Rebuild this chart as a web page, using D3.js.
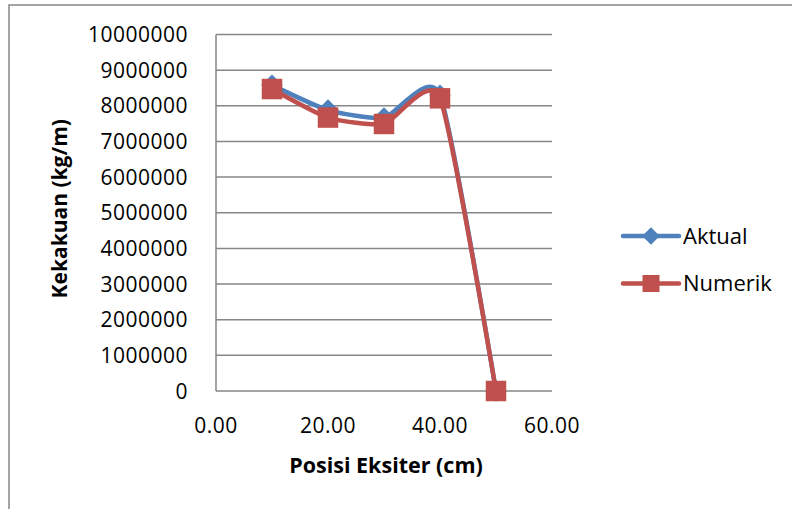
<!DOCTYPE html>
<html lang="en">
<head>
    <meta charset="UTF-8">
    <title>Kekakuan vs Posisi Eksiter</title>
    <script src="https://cdn.jsdelivr.net/npm/d3@7/dist/d3.min.js"></script>
    <style>
        body { margin: 0; background: #fff; }
        svg { display: block; }
    </style>
</head>
<body>
<script type="application/javascript">
    // posisi eksiter (cm)
    const posisi = [10, 20, 30, 40, 50];
    // kekakuan (kg/m)
    const aktual = [8580000, 7880000, 7660000, 8300000, 0];
    const numerik = [8470000, 7670000, 7490000, 8210000, 0];

    const yTicks = d3.range(0, 10000001, 1000000);
    const xTicks = [0, 20, 40, 60];

    const w = 792, h = 509;
    // batas area plot
    const plotL = 216, plotR = 552, plotT = 34.5, plotB = 391;
    const font = "'Open Sans', sans-serif";
    const gridColor = '#868686';

    let svg = d3.select('body')
        .append('svg')
        .attr('width', w)
        .attr('height', h);

    // rangka grafik (terpotong di kanan dan bawah)
    svg.append('rect')
        .attr('x', 9).attr('y', 5)
        .attr('width', 900).attr('height', 600)
        .attr('fill', 'none')
        .attr('stroke', gridColor)
        .attr('stroke-width', 1.5);

    let xScale = d3.scaleLinear().domain([0, 60]).range([plotL, plotR]);
    let yScale = d3.scaleLinear().domain([0, 10000000]).range([plotB, plotT]);

    // garis grid horizontal
    svg.selectAll('line.grid')
        .data(yTicks)
        .enter()
        .append('line')
        .attr('class', 'grid')
        .attr('x1', plotL).attr('x2', plotR)
        .attr('y1', d => yScale(d)).attr('y2', d => yScale(d))
        .attr('stroke', gridColor)
        .attr('stroke-width', 1.5);

    // sumbu y
    svg.append('line')
        .attr('x1', xScale(0)).attr('x2', xScale(0))
        .attr('y1', yScale(10000000)).attr('y2', yScale(0))
        .attr('stroke', gridColor)
        .attr('stroke-width', 1.5);

    // label sumbu y
    svg.selectAll('text.ytick')
        .data(yTicks)
        .enter()
        .append('text')
        .attr('class', 'ytick')
        .attr('x', 188)
        .attr('y', d => yScale(d))
        .attr('dy', '0.36em')
        .attr('text-anchor', 'end')
        .attr('font-family', font)
        .attr('font-size', '21px')
        .attr('letter-spacing', '0.5px')
        .attr('fill', '#000')
        .text(d => String(d));

    // label sumbu x
    svg.selectAll('text.xtick')
        .data(xTicks)
        .enter()
        .append('text')
        .attr('class', 'xtick')
        .attr('x', d => xScale(d))
        .attr('y', 433)
        .attr('text-anchor', 'middle')
        .attr('font-family', font)
        .attr('font-size', '21px')
        .attr('letter-spacing', '0.5px')
        .attr('fill', '#000')
        .text(d => d.toFixed(2));

    // judul sumbu
    svg.append('text')
        .attr('x', (plotL + plotR) / 2 + 2)
        .attr('y', 473)
        .attr('text-anchor', 'middle')
        .attr('font-family', font)
        .attr('font-size', '21.5px')
        .attr('font-weight', 'bold')
        .text('Posisi Eksiter (cm)');

    svg.append('text')
        .attr('transform', 'translate(67,' + ((plotT + plotB) / 2 - 4) + ') rotate(-90)')
        .attr('text-anchor', 'middle')
        .attr('font-family', font)
        .attr('font-size', '21px')
        .attr('font-weight', 'bold')
        .text('Kekakuan (kg/m)');

    const line = d3.line()
        .x(d => xScale(d[0]))
        .y(d => yScale(d[1]))
        .curve(d3.curveCardinal.tension(0.4));

    // belah ketupat = bujur sangkar diputar 45 derajat
    const series = [
        { name: 'Aktual', values: aktual, color: '#4F81BD', rot: 45, size: 230, legendSize: 155 },
        { name: 'Numerik', values: numerik, color: '#C0504D', rot: 0, size: 420, legendSize: 290 }
    ];

    series.forEach((s, i) => {
        const pts = posisi.map((p, j) => [p, s.values[j]]);

        svg.append('path')
            .datum(pts)
            .attr('d', line)
            .attr('fill', 'none')
            .attr('stroke', s.color)
            .attr('stroke-width', 4.5)
            .attr('stroke-linejoin', 'round')
            .attr('stroke-linecap', 'round');

        svg.selectAll('path.m' + i)
            .data(pts)
            .enter()
            .append('path')
            .attr('class', 'm' + i)
            .attr('d', d3.symbol().type(d3.symbolSquare).size(s.size))
            .attr('transform', d => 'translate(' + xScale(d[0]) + ',' + yScale(d[1]) + ') rotate(' + s.rot + ')')
            .attr('fill', s.color);

        // legenda
        const ly = 236 + i * 47.5;
        svg.append('line')
            .attr('x1', 623).attr('x2', 679)
            .attr('y1', ly).attr('y2', ly)
            .attr('stroke', s.color)
            .attr('stroke-width', 4.5)
            .attr('stroke-linecap', 'round');
        svg.append('path')
            .attr('d', d3.symbol().type(d3.symbolSquare).size(s.legendSize))
            .attr('transform', 'translate(651,' + ly + ') rotate(' + s.rot + ')')
            .attr('fill', s.color);
        svg.append('text')
            .attr('x', 683)
            .attr('y', ly)
            .attr('dy', '0.36em')
            .attr('font-family', font)
            .attr('font-size', '22px')
            .attr('fill', '#000')
            .text(s.name);
    });
</script>
</body>
</html>
